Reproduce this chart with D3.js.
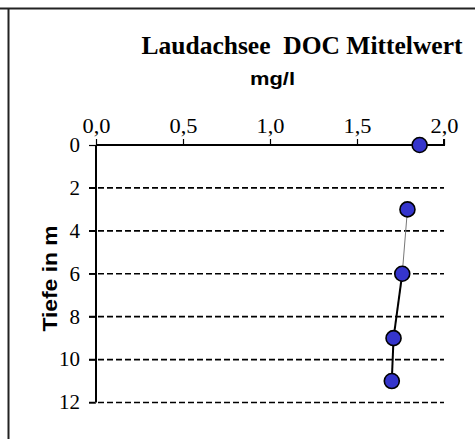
<!DOCTYPE html>
<html><head><meta charset="utf-8">
<script src="https://cdn.jsdelivr.net/npm/d3@7/dist/d3.min.js"></script>
<style>body{margin:0;background:#fff}svg{display:block}</style>
</head><body>
<svg id="c" width="475" height="439"></svg>
<script>
const depths = [0, 3, 6, 9, 11];
const docValues = [1.86, 1.79, 1.76, 1.71, 1.70];
const xTicks = [0, 0.5, 1.0, 1.5, 2.0];
const yTicks = [0, 2, 4, 6, 8, 10, 12];
const titleText = "Laudachsee\u00a0\u00a0DOC Mittelwert";
const unitText = "mg/l";
const yTitle = "Tiefe in m";

const svg = d3.select("#c");
const x = d3.scaleLinear().domain([0, 2]).range([96, 444]);
const y = d3.scaleLinear().domain([0, 12]).range([145, 402.5]);
const serif = "'Liberation Serif', 'Times New Roman', serif";
const sans = "'Liberation Sans', Arial, sans-serif";
function widen(sel, k) {
  sel.each(function(){ const w = this.getComputedTextLength(); d3.select(this).attr("textLength", w*k).attr("lengthAdjust","spacingAndGlyphs"); });
}

// frame lines
svg.append("line").attr("x1",0).attr("x2",475).attr("y1",8.5).attr("y2",8.5).attr("stroke","#222").attr("stroke-width",2);
svg.append("line").attr("x1",8.5).attr("x2",8.5).attr("y1",8).attr("y2",439).attr("stroke","#222").attr("stroke-width",2);

// gridlines dashed
svg.append("g").selectAll("line").data(yTicks.filter(d=>d>0)).join("line")
  .attr("x1",89).attr("x2",x(2)).attr("y1",d=>y(d)).attr("y2",d=>y(d))
  .attr("stroke","#000").attr("stroke-width",1.6).attr("stroke-dasharray","6,3");

// x axis (top)
const xAxis = d3.axisTop(x).tickValues(xTicks).tickSize(6).tickFormat(d=>d3.format(".1f")(d).replace(".",","));
const gx = svg.append("g").attr("transform",`translate(0,${y(0)})`).call(xAxis);
gx.select(".domain").attr("d",`M${x(0)},0H${x(2)}V-6`).attr("stroke","#000").attr("stroke-width",2);
gx.selectAll(".tick line").attr("stroke","#000").attr("stroke-width",1.2);
gx.selectAll(".tick text").attr("font-family",serif).attr("font-size",20).attr("fill","#000").attr("dy","-3").call(widen, 1.12);

// y axis
const yAxis = d3.axisLeft(y).tickValues(yTicks).tickSize(7).tickPadding(9);
const gy = svg.append("g").attr("transform",`translate(${x(0)},0)`).call(yAxis);
gy.select(".domain").attr("d",`M0,${y(0)}V${y(12)}`).attr("stroke","#000").attr("stroke-width",2);
gy.selectAll(".tick line").attr("stroke","#000").attr("stroke-width",1.2);
gy.selectAll(".tick text").attr("font-family",serif).attr("font-size",20).attr("fill","#000").call(widen, 1.05);

// lines between points
const pts = depths.map((d,i)=>({d, v: docValues[i]}));
const segs = [];
for (let i = 1; i < pts.length - 1; i++) segs.push([pts[i], pts[i+1], i]);
svg.append("g").selectAll("line").data(segs).join("line")
  .attr("x1",s=>x(s[0].v)).attr("y1",s=>y(s[0].d)).attr("x2",s=>x(s[1].v)).attr("y2",s=>y(s[1].d))
  .attr("stroke",s=>s[2]===1?"#777":"#000").attr("stroke-width",s=>s[2]===1?1:2);

// markers
svg.append("g").selectAll("circle").data(pts).join("circle")
  .attr("cx",p=>x(p.v)).attr("cy",p=>y(p.d)).attr("r",7.5)
  .attr("fill","#3535cc").attr("stroke","#000").attr("stroke-width",1.6);

// titles
svg.append("text").attr("x",302).attr("y",53.5).attr("text-anchor","middle")
  .attr("font-family",serif).attr("font-weight","bold").attr("font-size",25)
  .attr("textLength",321).attr("lengthAdjust","spacingAndGlyphs").text(titleText);
svg.append("text").attr("x",272.5).attr("y",85).attr("text-anchor","middle")
  .attr("font-family",sans).attr("font-weight","bold").attr("font-size",19)
  .attr("textLength",45).attr("lengthAdjust","spacingAndGlyphs").text(unitText);
svg.append("text").attr("transform","translate(57,278.5) rotate(-90)").attr("text-anchor","middle")
  .attr("font-family",sans).attr("font-weight","bold").attr("font-size",20)
  .attr("textLength",106).attr("lengthAdjust","spacingAndGlyphs").text(yTitle);
</script>
</body></html>
